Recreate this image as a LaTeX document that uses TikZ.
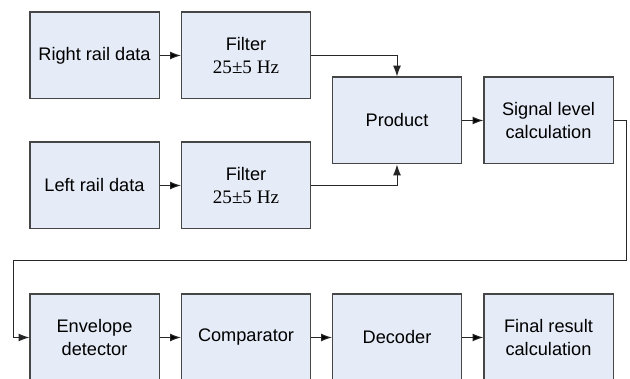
\documentclass[tikz,border=0pt]{standalone}
\usepackage{fontspec}
\setmainfont{Liberation Sans}
\newfontfamily\serifhz{Liberation Serif}
\usetikzlibrary{arrows.meta}

\definecolor{blockfill}{RGB}{230,236,247}
\definecolor{blockline}{RGB}{70,70,70}

\tikzset{
  block/.style={shape=rectangle, draw=blockline, fill=blockfill, line width=0.6pt,
    minimum width=71pt, minimum height=47.8pt, align=center,
    font=\fontsize{10}{12.5}\selectfont, inner sep=2pt},
  link/.style={-{Latex[length=6pt,width=4.4pt]}, line width=0.55pt, draw=black!85}
}

\begin{document}
\begin{tikzpicture}[x=0.55pt, y=-0.55pt]
\useasboundingbox (0,0) rectangle (630,379);
\node[block] (right) at (94.5,55.5) {Right rail data};
\node[block] (filterR) at (246,55.5) {Filter\\{\serifhz\fontsize{10.5}{12.5}\selectfont 25±5 Hz}};
\node[block] (left) at (94.5,185.5) {Left rail data};
\node[block] (filterL) at (246,185.5) {Filter\\{\serifhz\fontsize{10.5}{12.5}\selectfont 25±5 Hz}};
\node[block] (product) at (397,120.5) {Product};
\node[block] (signal) at (548.5,120.5) {Signal level\\calculation};
\node[block] (envelope) at (94.5,337.5) {Envelope\\detector};
\node[block] (comparator) at (246,337.5) {Comparator};
\node[block] (decoder) at (397,337.5) {Decoder};
\node[block] (final) at (548.5,337.5) {Final result\\calculation};
\coordinate (turnR) at (626,261);
\coordinate (turnL) at (13,261);
\path [link] (right) edge (filterR);
\path [link] (left) edge (filterL);
\draw [link] (filterR.east) -| (product.north);
\draw [link] (filterL.east) -| (product.south);
\path [link] (product) edge (signal);
\draw [link] (signal.east) -| (turnR) -- (turnL) |- (envelope.west);
\path [link] (envelope) edge (comparator);
\path [link] (comparator) edge (decoder);
\path [link] (decoder) edge (final);
\end{tikzpicture}
\end{document}
